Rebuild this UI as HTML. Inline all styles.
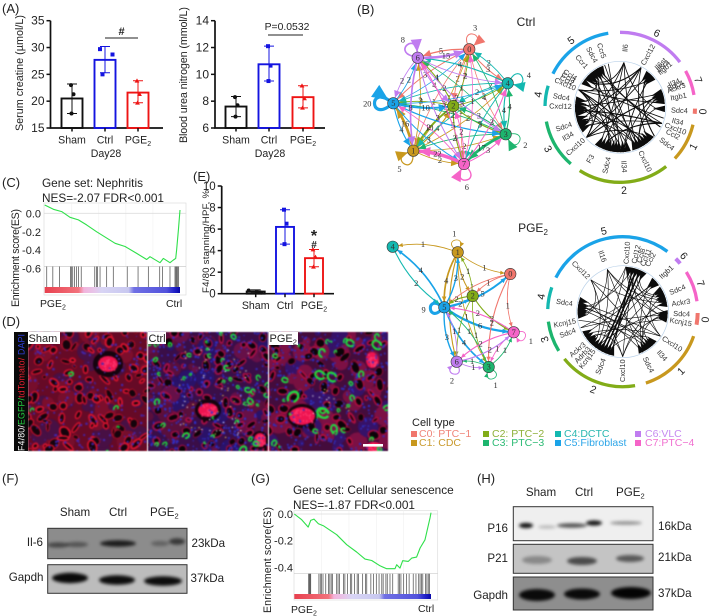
<!DOCTYPE html>
<html lang="en"><head><meta charset="utf-8"><title>Figure</title>
<style>
html,body{margin:0;padding:0;background:#fff;width:709px;height:616px;overflow:hidden}
#stage{position:relative;width:709px;height:616px}
canvas{position:absolute;filter:blur(.5px)}
svg{position:absolute;left:0;top:0}
text{font-family:"Liberation Sans",sans-serif;fill:#222}
.pl{font-size:13px}
.n{font-family:"Liberation Serif",serif;font-size:8.4px;fill:#333}
.g{font-size:7.4px;fill:#333}
.lg{font-size:10.5px}
</style></head><body>
<div id="stage">
<canvas id="mShamC" width="119" height="119" style="left:28px;top:332px"></canvas>
<canvas id="mCtrlC" width="120" height="119" style="left:148px;top:332px"></canvas>
<canvas id="mPgeC" width="119" height="119" style="left:269px;top:332px"></canvas>
<svg id="s" width="709" height="616" viewBox="0 0 709 616">
<defs>
<filter id="bl" x="-30%" y="-80%" width="160%" height="260%"><feGaussianBlur stdDeviation="1.6"/></filter>
<linearGradient id="rankBand">
<stop offset="0" stop-color="#e8404e"/><stop offset=".25" stop-color="#f2727c"/><stop offset=".29" stop-color="#f2b4dc"/><stop offset=".38" stop-color="#e4c8ec"/><stop offset=".42" stop-color="#d8d4f4"/><stop offset=".62" stop-color="#c8c8f0"/><stop offset=".66" stop-color="#7070e4"/><stop offset=".9" stop-color="#5252dc"/><stop offset=".96" stop-color="#2020c8"/><stop offset="1" stop-color="#0808a8"/>
</linearGradient>
</defs>
<text class="pl" x="2" y="13">(A)</text>
<text class="pl" x="357" y="14">(B)</text>
<text class="pl" x="2" y="187">(C)</text>
<text class="pl" x="2" y="326">(D)</text>
<text class="pl" x="193" y="181">(E)</text>
<text class="pl" x="2" y="483">(F)</text>
<text class="pl" x="251" y="483">(G)</text>
<text class="pl" x="477" y="483">(H)</text>

<text x="526" y="26" text-anchor="middle" font-size="12">Ctrl</text>
<text x="533" y="232" text-anchor="middle" font-size="12">PGE<tspan font-size="8" dy="3">2</tspan></text>

<g id="gseaC"></g>
<text x="42" y="187" font-size="11.8">Gene set: Nephritis</text>
<text x="42" y="202" font-size="11.8">NES=-2.07 FDR&lt;0.001</text>
<text transform="translate(19 307) rotate(-90)" font-size="10.6" textLength="98">Enrichment score(ES)</text>
<text x="40" y="307" font-size="10.4">PGE<tspan font-size="7" dy="2.5">2</tspan></text>
<text x="166" y="307" font-size="10.4">Ctrl</text>

<g id="gseaG"></g>
<text x="293" y="494" font-size="11.8">Gene set: Cellular senescence</text>
<text x="293" y="509" font-size="11.8">NES=-1.87 FDR&lt;0.001</text>
<text transform="translate(271 613) rotate(-90)" font-size="10.6" textLength="106">Enrichment score(ES)</text>
<text x="291" y="613" font-size="10.4">PGE<tspan font-size="7" dy="2.5">2</tspan></text>
<text x="418" y="612" font-size="10.4">Ctrl</text>

<g id="barA1"></g>
<g id="barA2"></g>
<g id="barE"></g>
<text x="106" y="157" text-anchor="middle" font-size="10.6">Day28</text>
<text x="270" y="157" text-anchor="middle" font-size="10.6">Day28</text>
<line x1="105" x2="138" y1="38" y2="38" stroke="#222" stroke-width="1"/>
<text x="121.5" y="35" text-anchor="middle" font-size="11" font-weight="bold">#</text>
<line x1="268" x2="303" y1="35" y2="35" stroke="#222" stroke-width="1"/>
<text x="287" y="30" text-anchor="middle" font-size="10.4">P=0.0532</text>
<text x="314" y="241" text-anchor="middle" font-size="16" font-weight="bold">*</text>
<text x="314" y="248" text-anchor="middle" font-size="10" font-weight="bold">#</text>

<g id="net1"></g>
<g id="net2"></g>
<g id="chord1"></g>
<g id="chord2"></g>

<g>
<text x="412" y="426" font-size="11">Cell type</text>
<rect x="411" y="431" width="6" height="6" fill="#f0766d"/><text class="lg" x="419" y="437" style="fill:#f0857a">C0: PTC−1</text>
<rect x="411" y="440" width="6" height="6" fill="#c8981e"/><text class="lg" x="419" y="446" style="fill:#c99a2e">C1: CDC</text>
<rect x="483" y="431" width="6" height="6" fill="#82ac18"/><text class="lg" x="492" y="437" style="fill:#8fb03a">C2: PTC−2</text>
<rect x="483" y="440" width="6" height="6" fill="#1db56e"/><text class="lg" x="492" y="446" style="fill:#2dbb75">C3: PTC−3</text>
<rect x="555" y="431" width="6" height="6" fill="#14b8b0"/><text class="lg" x="564" y="437" style="fill:#2ab8b0">C4:DCTC</text>
<rect x="555" y="440" width="6" height="6" fill="#1aa3e8"/><text class="lg" x="564" y="446" style="fill:#2ba5e8">C5:Fibroblast</text>
<rect x="635" y="431" width="6" height="6" fill="#c07cf0"/><text class="lg" x="645" y="437" style="fill:#c58af0">C6:VLC</text>
<rect x="635" y="440" width="6" height="6" fill="#f564c8"/><text class="lg" x="645" y="446" style="fill:#f070d0">C7:PTC−4</text>
</g>

<g>
<rect x="14" y="332" width="14" height="119" fill="#0a0a0a"/>
<text transform="translate(24.5 451) rotate(-90)" font-size="8.8" textLength="117" style="fill:#fff"><tspan style="fill:#fff">F4/80/</tspan><tspan style="fill:#22d040">EGFP/</tspan><tspan style="fill:#e82030">tdTomato/</tspan><tspan style="fill:#3040e0"> DAPI</tspan></text>
<rect x="28" y="332" width="32" height="12" fill="#fff"/>
<text x="28.5" y="342" font-size="11">Sham</text>
<rect x="148" y="332" width="18" height="12" fill="#fff"/>
<text x="148.5" y="342" font-size="11">Ctrl</text>
<rect x="269" y="332" width="29" height="13" fill="#fff"/>
<text x="269.5" y="342" font-size="11">PGE<tspan font-size="7.5" dy="2.5">2</tspan></text>
<rect x="363" y="444" width="20" height="2.6" fill="#fff"/>
</g>

<g id="blots"></g>
<g font-size="11.6">
<text x="75" y="516" text-anchor="middle">Sham</text>
<text x="118" y="516" text-anchor="middle">Ctrl</text>
<text x="150" y="516">PGE<tspan font-size="7.5" dy="2.5">2</tspan></text>
<text x="43" y="546" text-anchor="end">Il-6</text>
<text x="43.5" y="581" text-anchor="end">Gapdh</text>
<text x="191.5" y="547">23kDa</text>
<text x="190.5" y="582">37kDa</text>
<text x="541" y="496" text-anchor="middle">Sham</text>
<text x="584" y="496" text-anchor="middle">Ctrl</text>
<text x="616" y="496">PGE<tspan font-size="7.5" dy="2.5">2</tspan></text>
<text x="508" y="532" text-anchor="end">P16</text>
<text x="508" y="562" text-anchor="end">P21</text>
<text x="508" y="599" text-anchor="end">Gapdh</text>
<text x="658" y="530">16kDa</text>
<text x="658" y="561">21kDa</text>
<text x="658" y="597">37kDa</text>
</g>
</svg></div>
<script>
/* ---------- bar chart data ---------- */
const barGroups = ['Sham','Ctrl','PGE2'];
const creatineMean = [20.5,27.7,21.6];
const creatineLow = [17.7,25.3,19.7];
const creatineHigh = [23.2,30.2,23.8];
const creatinePoints = [[23,21.3,17.7],[29.7,28.7,25],[23.8,21.3,19.7]];
const creatineTicks = [15,20,25,30,35];
const bunMean = [7.6,10.75,8.3];
const bunLow = [6.85,9.5,7.5];
const bunHigh = [8.35,12.1,9.15];
const bunPoints = [[8.3,7.7,6.85],[12.1,10.65,9.5],[9.15,8.2,7.5]];
const bunTicks = [6,8,10,12,14];
const f480Mean = [0.2,6.2,3.3];
const f480Low = [0.05,4.6,2.5];
const f480High = [0.35,7.8,4.1];
const f480Points = [[0.3,0.15,0.1],[7.8,6.5,4.6],[4.1,3.4,2.5]];
const f480Ticks = [0,2,4,6,8,10];
/* ---------- GSEA data ---------- */
const nephritisRank = [0,6.4,12.6,18.7,24.9,31,38.4,52,59.4,68,75.4,77.8,85.2,87.7,92.6,95.1,96.8,97.5,98.8,100];
const nephritisES = [.09,.043,.018,-.043,-.072,-.126,-.2,-.325,-.36,-.434,-.5,-.47,-.535,-.488,-.535,-.506,-.488,-.4,-.18,.036];
const nephritisHits = [1.5,6,11,19,19.7,20.7,22,23.4,25,27,37,38.3,39,40.9,45.8,50.7,61,69,76.6,85,87,92.6,96.3,97,97.6,98.3,99];
const nephritisTicks = [0,-0.2,-0.4,-0.6];
const senescenceRank = [0,5.4,10.2,12,14.4,17.6,21.2,24.9,31,38.3,45.6,51.7,56.6,62.7,67.6,73.7,74.9,77.3,79.3,83.4,85.9,89.5,92,95.6,97.6,99.3,100];
const senescenceES = [0,-.043,-.098,-.048,-.038,-.073,-.088,-.113,-.155,-.23,-.285,-.338,-.348,-.388,-.41,-.41,-.38,-.405,-.35,-.355,-.33,-.323,-.255,-.193,-.105,-.03,.01];
const senescenceHits = [10.5,11,11.5,12,18,19,20,21,23,25,26,27,28,31,32,33,36,37,39,41,42,44,46,47,50,52,53,56,58,60,62,64,65,67,68,70,72,76,77,78,80,82,84,87,89,91,92,93,94,96,97,98,99];
const senescenceTicks = [0,-0.2,-0.4];
/* ---------- network data ---------- */
const cellColors = ['#f0766d','#c8981e','#82ac18','#1db56e','#14b8b0','#1aa3e8','#c07cf0','#f564c8'];
const ctrlCounts = [
[3,1,2,1,3,3,5,1],
[1,5,4,2,2,16,2,2],
[2,10,0,5,2,3,4,4],
[2,2,3,2,4,3,1,17],
[2,2,2,4,4,2,4,3],
[1,4,10,5,2,20,2,3],
[15,8,4,3,2,2,8,3],
[1,22,2,3,3,2,3,6]];
const pgeEdgeFrom = [1,1,1,1,1,1,1,5,5,5,5,5,5,5,5,4,0,0,0,0,2,2,2,2,2,3,3,3,3,7,7,7,7,6,6,6,6];
const pgeEdgeTo   = [1,4,0,2,5,3,6,5,1,4,0,2,7,6,3,5,2,7,5,3,1,5,7,6,3,3,6,7,5,7,5,6,3,6,5,3,7];
const pgeEdgeVal  = [1,1,1,2,4,1,2,9,3,4,5,2,6,3,4,2,1,1,1,2,1,2,2,1,1,1,1,1,1,1,2,2,1,2,1,1,2];
/* ---------- chord data: [ligand clock deg, receptor clock deg, width] ---------- */
const ctrlLinks = [[293,318,.9],[228,322,1.1],[155,326,.8],[111,330,.8],[116,334,1.1],[28,312,1.1],[5,316,.8],[104,305,.8],[155,275,.8],[111,265,1.1],[228,270,.8],[293,280,.8],[28,262,.8],[176,268,.8],[293,245,.8],[155,250,.8],[111,240,.8],[5,255,.8],[28,247,.8],[293,195,.8],[111,200,1.1],[28,205,.8],[5,210,.8],[271,190,.8],[318,198,.8],[271,145,.8],[293,150,1.1],[228,140,.8],[28,135,.8],[5,155,.8],[228,75,1.1],[155,78,.8],[271,70,.8],[293,82,.8],[176,73,.8],[293,45,.8],[228,40,.8],[176,48,.8],[130,44,1.1],[5,92,.8],[155,92,.7],[293,170,.8],[320,176,.8],[340,160,.8],[345,182,.8],[330,186,.8]];
const pgeLinks = [[123,280,.6],[138,275,.6],[154,270,.6],[180,285,.6],[315,268,.6],[340,265,.6],[4,272,.6],[13,278,.6],[123,235,.6],[180,230,.6],[315,225,.6],[340,220,.6],[4,215,.6],[18,210,1.6],[23,205,1.6],[28,200,1],[13,195,1.2],[47,240,.6],[100,228,.6],[259,150,.6],[279,146,.6],[315,142,.6],[340,155,.6],[4,138,.6],[202,135,.6],[315,75,.6],[340,70,.6],[4,66,.6],[202,62,.6],[180,80,.6],[123,60,.6],[154,72,.6],[217,92,.6],[249,96,.6],[180,100,.6],[340,94,.6],[154,98,.6],[249,47,.6],[217,50,.6],[154,45,.6],[180,18,.6],[123,13,.6],[100,8,.6],[92,23,.6],[68,28,.6]];
const ctrlGenes = ['Il6','Cxcl12','Il6st','Il6ra','Itgb1','Il34','Sdc4','Ackr3','Itgb1','Sdc4','Il34','Cxcl10','Ccl2','Sdc4','Cxcl10','Il34','Sdc4','F3','Cxcl10','Il34','Sdc4','Cxcl12','Sdc4','Cxcl10','Ccl2','Ccl3','Ccl4','Ccr1','Sdc4','Ccr5'];
const ctrlGeneAngles = [5,28,43,46,49,65.6,68.5,71,79.6,93,104,111,117,128,155,176,193,210,228.5,241,251,271,280,293,297,300,303,320,332,342];
const pgeGenes = ['Cxcl12','Il16','Cxcl10','Ccl12','Ccl8','Ccl11','Ccl2','Itgb1','Sdc4','Ackr3','Sdc4','Kcnj15','Cxcl10','Il34','Sdc4','Cxcl10','Sdc4','Kcnj15','Adrb3','Ackr3','Sdc4','Kcnj15','Sdc4'];
const pgeGeneAngles = [315,340,4,13,18,23,28,47.7,68,81,92,100,123,138,154,180,202,217,223,230,249,259,279];
const ctrlArcs = [[91,95,0],[103.4,133,1],[142,212.5,2],[221,259,3],[271,286.7,4],[296.6,351,5],[0,53,6],[61,80.5,7]];
const pgeArcs = [[91,100,0],[109,162,1],[170.5,231,2],[238.5,262.4,3],[272,289,4],[297,396.6,5],[45,50,6],[58,82,7]];
/* ---------- helpers ---------- */
const NS='http://www.w3.org/2000/svg';
function mk(parent,tag,attrs,txt){const e=document.createElementNS(NS,tag);for(const k in attrs)e.setAttribute(k,attrs[k]);if(txt!==undefined)e.textContent=txt;parent.appendChild(e);return e;}
function lin(d0,d1,r0,r1){return v=>r0+(v-d0)*(r1-r0)/(d1-d0);}
function fmt1(v){return v.toFixed(1);}
const barColors=['#111','#1414e0','#ee1414'];
function barChart(id,c){
 const g=document.getElementById(id),y=lin(c.dmin,c.dmax,c.y0,c.y1);
 const lines=mk(g,'path',{d:`M${c.ax} ${c.y1}V${c.y0}H${c.xEnd}`,fill:'none',stroke:'#111','stroke-width':1.7});
 
 
 c.ticks.forEach(t=>{
  const tk=mk(g,'line',{x1:c.ax-4,x2:c.ax,y1:y(t),y2:y(t),stroke:'#111','stroke-width':1.5});
  
  
  const lb=mk(g,'text',{x:c.ax-6,y:y(t)+4,'text-anchor':'end','font-size':c.fs},String(t));
  
  
 });
 const title=mk(g,'text',{transform:`translate(${c.tx} ${c.ty}) rotate(-90)`,'font-size':c.tfs,textLength:c.tl},c.title);
 
 
 barGroups.forEach((name,i)=>{
  const x=c.xs[i],col=barColors[i];
  const bar=mk(g,'rect',{x:x-c.w/2,y:y(c.mean[i]),width:c.w,height:c.y0-y(c.mean[i]),fill:'none',stroke:col,'stroke-width':1.9});
  
  
  const err=mk(g,'path',{d:`M${x} ${y(c.low[i])}V${y(c.high[i])}M${x-5} ${y(c.high[i])}H${x+5}M${x-5} ${y(c.low[i])}H${x+5}`,stroke:col,'stroke-width':1,fill:'none'});
  
  
  c.pts[i].forEach((v,j)=>{
   const px=x+[-1,1.5,-.5][j]*(i==1&&c.jit?5:1)+(c.spread?[-6,0,6][j]*(i==0?1:0):0),py=y(v);let m;
   if(i==0)m=mk(g,'circle',{cx:px,cy:py,r:2,fill:col});
   else if(i==1)m=mk(g,'rect',{x:px-2,y:py-2,width:4,height:4,fill:col});
   else m=mk(g,'path',{d:`M${px} ${py-2.4}L${px+2.4} ${py+1.8}H${px-2.4}Z`,fill:col});
   
   
  });
  const tk=mk(g,'line',{x1:x,x2:x,y1:c.y0,y2:c.y0+3.5,stroke:'#111','stroke-width':1.5});
  
  
  const lb=mk(g,'text',{x:x,y:c.y0+15.5,'text-anchor':'middle','font-size':10.6});
  
  
  if(name==='PGE2'){lb.textContent='PGE';mk(lb,'tspan',{'font-size':7,dy:2.5},'2');}else lb.textContent=name;
 });
}
barChart('barA1',{dmin:15,dmax:35,y0:128,y1:20.7,ax:50.5,xEnd:163,xs:[72,105,138],w:21,mean:creatineMean,low:creatineLow,high:creatineHigh,pts:creatinePoints,ticks:creatineTicks,fs:12,title:'Serum creatine (µmol/L)',tx:23,ty:131,tfs:10.8,tl:116,jit:true});
barChart('barA2',{dmin:6,dmax:14,y0:128,y1:20.7,ax:215,xEnd:325,xs:[236,269,303],w:21,mean:bunMean,low:bunLow,high:bunHigh,pts:bunPoints,ticks:bunTicks,fs:12,title:'Blood urea nitrogen (mmol/L)',tx:187,ty:143,tfs:10.8,tl:136});
barChart('barE',{dmin:0,dmax:10,y0:293.7,y1:186,ax:221.7,xEnd:334,xs:[255.7,285,314],w:18,mean:f480Mean,low:f480Low,high:f480High,pts:f480Points,ticks:f480Ticks,fs:11.5,title:'F4/80 stanning/HPF, %',tx:209,ty:293,tfs:9.6,tl:103,spread:true});

function gsea(id,c){
 const g=document.getElementById(id),x=lin(0,100,c.x0,c.x1),y=lin(c.t0,c.t1,c.y0,c.y1);
 const bg=mk(g,'rect',{x:c.bx0,y:c.by0,width:c.bx1-c.bx0,height:c.by1-c.by0,fill:'#fff',stroke:'#ddd','stroke-width':.7});
 
 
 [20,40,60,80].forEach(p=>{
  const gl=mk(g,'line',{x1:x(p),x2:x(p),y1:c.by0,y2:c.sep,stroke:'#f0f0f0','stroke-width':.6});
  
  
 });
 const zero=mk(g,'line',{x1:c.bx0,x2:c.bx1,y1:y(0),y2:y(0),stroke:'#ddd','stroke-width':.8});
 
 
 const sep=mk(g,'line',{x1:c.bx0,x2:c.bx1,y1:c.sep,y2:c.sep,stroke:'#ccc','stroke-width':.7});
 
 
 c.ticks.forEach(t=>{
  const lb=mk(g,'text',{x:c.lx,y:y(t)+4,'text-anchor':'end','font-size':11},fmt1(t));
  
  
 });
 c.hits.forEach(h=>{
  const l=mk(g,'line',{x1:x(h),x2:x(h),y1:c.sep,y2:c.hb,stroke:'#555','stroke-width':.75});
  
  
 });
 const band=mk(g,'rect',{x:c.x0,y:c.hb,width:c.x1-c.x0,height:c.bh,fill:'url(#rankBand)'});
 
 
 const d=c.rank.map((r,i)=>(i?'L':'M')+x(r).toFixed(1)+' '+y(c.es[i]).toFixed(1)).join('');
 const path=mk(g,'path',{d:d,fill:'none',stroke:'#2fe04a','stroke-width':1.1,'stroke-linejoin':'round'});
 
 
}
gsea('gseaC',{x0:44.7,x1:180,t0:0,t1:-.6,y0:213.3,y1:268.7,bx0:44,bx1:186,by0:203,by1:295,sep:266.5,hb:287,bh:6,lx:41,ticks:nephritisTicks,hits:nephritisHits,rank:nephritisRank,es:nephritisES});
gsea('gseaG',{x0:294.3,x1:431,t0:0,t1:-.4,y0:514,y1:567.4,bx0:294,bx1:437.7,by0:510.7,by1:600,sep:573.7,hb:594,bh:5,lx:293,ticks:senescenceTicks,hits:senescenceHits,rank:senescenceRank,es:senescenceES});

/* networks */
function network(id,nodes,edges,loopDir,c){
 const g=document.getElementById(id);
 const R=5.7;
 edges.forEach(e=>{
  const a=nodes[e[0]],b=nodes[e[1]],col=cellColors[e[0]],w=e[2];
  const sw=c.w0+c.w1*w,hs=c.h0+c.h1*w;
  if(e[0]===e[1]){
   const t=loopDir[e[0]]*Math.PI/180,L=c.loop+w*.2,s=.6,hs2=hs*c.loopHead;
   const p1=[a[0]+Math.cos(t-s)*R,a[1]+Math.sin(t-s)*R],p2=[a[0]+Math.cos(t+s)*R,a[1]+Math.sin(t+s)*R];
   const c1=[a[0]+Math.cos(t-s)*L*1.5,a[1]+Math.sin(t-s)*L*1.5],c2=[a[0]+Math.cos(t+s)*L*1.5,a[1]+Math.sin(t+s)*L*1.5];
   const lp=mk(g,'path',{d:`M${p1}C${c1} ${c2} ${p2}`,fill:'none',stroke:col,'stroke-width':sw});
   
   
   const u=Math.atan2(p2[1]-c2[1],p2[0]-c2[0]);
   const hd=mk(g,'path',{d:`M${p2}L${p2[0]-Math.cos(u-.42)*hs2} ${p2[1]-Math.sin(u-.42)*hs2}L${p2[0]-Math.cos(u+.42)*hs2} ${p2[1]-Math.sin(u+.42)*hs2}Z`,fill:col});
   
   
   const tl=mk(g,'text',{class:'n',x:a[0]+Math.cos(t)*(L+7),y:a[1]+Math.sin(t)*(L+7)+3,'text-anchor':'middle'},String(w));
   
   
   return;
  }
  const dx=b[0]-a[0],dy=b[1]-a[1];
  const cx=(a[0]+b[0])/2-dy*c.curv,cy=(a[1]+b[1])/2+dx*c.curv;
  const u1=Math.atan2(cy-a[1],cx-a[0]),u2=Math.atan2(b[1]-cy,b[0]-cx);
  const s=[a[0]+Math.cos(u1)*R,a[1]+Math.sin(u1)*R],t=[b[0]-Math.cos(u2)*R,b[1]-Math.sin(u2)*R];
  const ln=mk(g,'path',{d:`M${s}Q${cx} ${cy} ${t}`,fill:'none',stroke:col,'stroke-width':sw});
  
  
  const hd=mk(g,'path',{d:`M${t}L${t[0]-Math.cos(u2-.42)*hs} ${t[1]-Math.sin(u2-.42)*hs}L${t[0]-Math.cos(u2+.42)*hs} ${t[1]-Math.sin(u2+.42)*hs}Z`,fill:col});
  
  
  const q=.55,lx=(1-q)*(1-q)*s[0]+2*q*(1-q)*cx+q*q*t[0],ly=(1-q)*(1-q)*s[1]+2*q*(1-q)*cy+q*q*t[1];
  const tl=mk(g,'text',{class:'n',x:lx,y:ly+2.5,'text-anchor':'middle'},String(w));
  
  
 });
 nodes.forEach((n,i)=>{
  const ci=mk(g,'circle',{cx:n[0],cy:n[1],r:R,fill:cellColors[i],stroke:'#333','stroke-width':.6});
  
  
  const tx=mk(g,'text',{class:'n',x:n[0],y:n[1]+2.7,'text-anchor':'middle'},String(i));
  
  
 });
}
const ctrlNodes=[[469.3,49.3],[413.3,150.7],[453.3,106],[505.7,134.3],[507.7,83.3],[393.3,103.3],[417.7,57.7],[464,164]];
const pgeNodes=[[510.3,274],[457.7,252.3],[472.7,296],[488.7,367],[392.7,246.7],[444.3,307.3],[456.7,361.7],[513.7,332.3]];
const ctrlEdges=[];
ctrlCounts.forEach((row,i)=>row.forEach((v,j)=>{if(v>0)ctrlEdges.push([i,j,v]);}));
const pgeEdges=pgeEdgeFrom.map((f,i)=>[f,pgeEdgeTo[i],pgeEdgeVal[i]]);
network('net1',ctrlNodes,ctrlEdges,[-75,127,0,29,-22,180,-129,83],{w0:.6,w1:.13,h0:7.5,h1:.22,curv:.09,loop:15,loopHead:1.5});
network('net2',pgeNodes,pgeEdges,[0,-100,0,69,0,174,104,27],{w0:.55,w1:.28,h0:4.6,h1:.25,curv:.13,loop:12,loopHead:1.1});

/* chord diagrams */
function polar(cx,cy,r,deg){const t=(deg-90)*Math.PI/180;return [cx+r*Math.cos(t),cy+r*Math.sin(t)];}
function chord(id,cx,cy,arcs,genes,angles,radii,links){
 const g=document.getElementById(id);
 arcs.forEach(a=>{
  const p=polar(cx,cy,75,a[0]),q=polar(cx,cy,75,a[1]);
  const big=(a[1]-a[0])>180?1:0;
  const ar=mk(g,'path',{d:`M${p}A75 75 0 ${big} 1 ${q}`,fill:'none',stroke:cellColors[a[2]],'stroke-width':a[1]-a[0]<10?4:3.3});
  
  
  const mid=((a[0]+a[1])/2)%360;
  const n=polar(cx,cy,83,mid);
  const rot=mid>110&&mid<250?mid-180:(mid>=250?mid-360:mid);
  const tx=mk(g,'text',{x:n[0],y:n[1]+3.7,'text-anchor':'middle','font-size':10.5,transform:`rotate(${rot} ${n[0]} ${n[1]})`},String(a[2]));
  
  
 });
 const ring=mk(g,'circle',{cx:cx,cy:cy,r:46,fill:'none',stroke:'#b8d0e8','stroke-width':.7});
 
 
 links.forEach(l=>{
  const a=polar(cx,cy,45,l[0]),b=polar(cx,cy,36,l[1]);
  const qx=cx+((a[0]+b[0])/2-cx)*.6,qy=cy+((a[1]+b[1])/2-cy)*.6;
  const p=mk(g,'path',{d:`M${a}Q${qx} ${qy} ${b}`,fill:'none',stroke:'#0c0c0c','stroke-width':l[2]});
  
  
  const t=polar(cx,cy,l[2]>=.8?33:35,l[1]),u=polar(cx,cy,45,l[1]-4),v=polar(cx,cy,45,l[1]+4);
  const w=mk(g,'path',{d:`M${t}L${u}L${v}Z`,fill:'#0c0c0c'});
  
  
 });
 genes.forEach((name,i)=>{
  const a=angles[i],p=polar(cx,cy,radii,a),rot=a<180?a-90:a+90;
  const t=mk(g,'text',{class:'g',x:p[0],y:p[1]+2.5,'text-anchor':'middle',transform:`rotate(${rot} ${p[0]} ${p[1]})`},name);
  
  
 });
}
chord('chord1',620,107.3,ctrlArcs,ctrlGenes,ctrlGeneAngles,59.5,ctrlLinks);
chord('chord2',622.7,311.7,pgeArcs,pgeGenes,pgeGeneAngles,59,pgeLinks);

/* western blots */
function blot(x,y,w,h,bg,bands,name){
 const g=document.getElementById('blots');
 const cid='cl'+name;
 const cp=mk(g.ownerSVGElement.querySelector('defs'),'clipPath',{id:cid});
 mk(cp,'rect',{x:x,y:y,width:w,height:h});
 const box=mk(g,'rect',{x:x,y:y,width:w,height:h,fill:bg});
 
 
 const bb=mk(g,'g',{'clip-path':`url(#${cid})`});
 const bf=mk(bb,'g',{filter:'url(#bl)'});
 bands.forEach(b=>{
  const e=mk(bf,'ellipse',{cx:b[0],cy:b[1],rx:b[2],ry:b[3],fill:'#000','fill-opacity':b[4]});
  
  
 });
 const fr=mk(g,'rect',{x:x,y:y,width:w,height:h,fill:'none',stroke:'#333','stroke-width':1});
 
 
}
blot(47.7,528.3,139.3,30.4,'#8c8c8c',[[58,545,11,2.6,.5],[77,544.5,11,2.6,.4],[118,543.5,18,3.2,.8],[160,543.5,9,2.6,.3],[177,541.5,8,3.2,.6]],'il6');
blot(47.7,564.7,139.3,28.6,'#bcbcbc',[[70,578,18,5.2,.95],[117,580,18,4.8,.93],[163,581,19,4.8,.93]],'f-gapdh');
blot(513.3,506.7,139.7,34,'#efefef',[[526,525.5,7,2.6,.92],[547,527,9,1.8,.22],[572,525.5,15,2.3,.65],[594,523,8,2.6,.9],[626,523,16,1.8,.4]],'p16');
blot(513.3,544.3,139.7,29,'#c4c4c4',[[537,560,15,4,.3],[582,561,15,4,.62],[630,558.5,14,3.5,.55]],'p21');
blot(513.3,577,139.7,33,'#8e8e8e',[[537,595,18,6,.93],[582,594,18,5.5,.93],[631,593,20,6,.97]],'h-gapdh');

/* micrograph textures (decorative, deterministic) */
function rng(a){return()=>{a|=0;a=a+0x6D2B79F5|0;let t=Math.imul(a^a>>>15,1|a);t=t+Math.imul(t^t>>>7,61|t)^t;return((t^t>>>14)>>>0)/4294967296;};}
function micro(id,o){
 const cv=document.getElementById(id),x=cv.getContext('2d'),W=cv.width,H=cv.height,r=rng(o.seed);
 x.fillStyle=o.base;x.fillRect(0,0,W,H);
 for(let i=0;i<o.mottle;i++){x.fillStyle=o.mottleCols[Math.floor(r()*o.mottleCols.length)];x.beginPath();x.arc(r()*W,r()*H,3+r()*8,0,7);x.fill();}
 const sp=o.sp;
 for(let gy=0;gy<H+sp;gy+=sp)for(let gx=0;gx<W+sp;gx+=sp){
  const cx=gx+(r()-.5)*sp,cy=gy+(r()-.5)*sp,a=1.8+r()*o.lum,b=1.4+r()*o.lum*.7;
  x.beginPath();x.ellipse(cx,cy,a,b,r()*3,0,7);x.fillStyle=o.lumen;x.fill();
  x.lineWidth=.7+r()*1.3;x.strokeStyle=o.ring;x.stroke();
 }
 (o.dark||[]).forEach(g=>{x.fillStyle='#14040e';x.beginPath();x.ellipse(g[0],g[1],g[2]+3,g[3]+3,0,0,7);x.fill();});
 (o.glom||[]).forEach(g=>{x.fillStyle='#ee1450';x.beginPath();x.ellipse(g[0],g[1],g[2],g[3],0,0,7);x.fill();
  for(let i=0;i<30;i++){x.fillStyle='#ff3a70';x.fillRect(g[0]+(r()-.5)*g[2]*1.5,g[1]+(r()-.5)*g[3]*1.5,1.5,1.5);}});
 x.fillStyle=o.dot;
 for(let i=0;i<o.dots;i++){x.beginPath();x.arc(r()*W,r()*H,.6+r()*.7,0,7);x.fill();}
 for(let i=0;i<o.specks;i++){x.fillStyle=r()>.4?'#fff':'#ffe060';x.fillRect(o.sx+r()*o.sw,o.sy+r()*o.sh,1.3,1);}
 const green=(cx,cy,rad)=>{x.strokeStyle='#20e040';x.lineWidth=.9+rad*.25;x.beginPath();x.ellipse(cx,cy,rad,rad*.75,r()*3,0,4.5+r()*1.8);x.stroke();};
 (o.big||[]).forEach(g=>green(g[0],g[1],g[2]));
 for(let i=0;i<o.green;i++)green(r()*W,r()*H,1+r()*2.2);
}
micro('mShamC',{seed:11,base:'#660a26',mottle:50,mottleCols:['#7c0e2c','#481044','#760e2c'],sp:12,lum:4.6,lumen:'#14040c',ring:'#dc1430',dot:'#4428b4',dots:230,specks:0,sx:0,sy:0,sw:1,sh:1,green:0,
 dark:[[80,32,12,10]],glom:[[80,32,10,8]],big:[[43,42,2.4],[4,78,2],[88,76,2.4],[90,95,1.2],[79,120,1.6]]});
micro('mCtrlC',{seed:23,base:'#3a0e48',mottle:60,mottleCols:['#661048','#2a1268','#5a0f3c'],sp:13,lum:4,lumen:'#0c0308',ring:'#a81048',dot:'#3030c8',dots:500,specks:70,sx:30,sy:15,sw:70,sh:90,green:34,
 dark:[[60,78,10,8],[112,108,6,6]],glom:[[60,78,10,7],[112,108,6,7]],big:[[79,36,3],[100,58,3],[9,70,3],[95,118,4],[127,12,2.4]]});
micro('mPgeC',{seed:37,base:'#440c3c',mottle:60,mottleCols:['#7c1044','#361268','#781040'],sp:14,lum:4.5,lumen:'#0c0308',ring:'#b01040',dot:'#3030c0',dots:380,specks:14,sx:40,sy:55,sw:40,sh:30,green:24,
 dark:[[33,84,12,9]],glom:[[33,84,13,9],[105,115,8,5],[103,28,6,8]],big:[[24,65,6],[51,43,5],[63,45,5],[81,11,4],[53,21,4],[108,13,5],[54,81,6],[16,48,3],[65,97,4]]});
</script>
</body></html>
